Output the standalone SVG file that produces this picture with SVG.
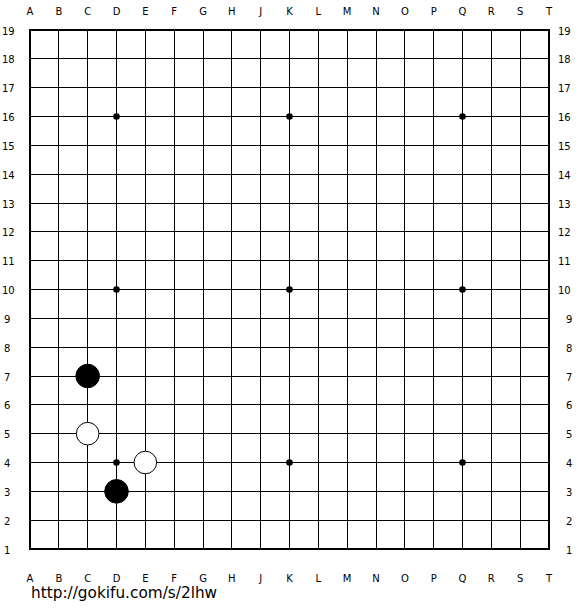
<svg xmlns="http://www.w3.org/2000/svg" width="580" height="610" viewBox="0 0 580 610">
<style>
.bg{fill:#ffffff}
.grid line{stroke:#000;stroke-width:1;shape-rendering:crispEdges}
.border{fill:none;stroke:#000;stroke-width:2;shape-rendering:crispEdges}
.coord{font-family:"DejaVu Sans",Verdana,sans-serif;font-size:10px;fill:#000}
.cx{text-anchor:middle}
.star{fill:#000}
.black{fill:#000;stroke:#000;stroke-width:1}
.white{fill:#fff;stroke:#000;stroke-width:1}
.url{font-family:"DejaVu Sans",Verdana,sans-serif;font-size:15.3px;fill:#000}
</style>
<rect class="bg" x="0" y="0" width="580" height="610"/>
<g id="connectors" class="grid">
<line x1="58.83" y1="30" x2="58.83" y2="549"/>
<line x1="87.67" y1="30" x2="87.67" y2="549"/>
<line x1="116.5" y1="30" x2="116.5" y2="549"/>
<line x1="145.33" y1="30" x2="145.33" y2="549"/>
<line x1="174.17" y1="30" x2="174.17" y2="549"/>
<line x1="203" y1="30" x2="203" y2="549"/>
<line x1="231.83" y1="30" x2="231.83" y2="549"/>
<line x1="260.67" y1="30" x2="260.67" y2="549"/>
<line x1="289.5" y1="30" x2="289.5" y2="549"/>
<line x1="318.33" y1="30" x2="318.33" y2="549"/>
<line x1="347.17" y1="30" x2="347.17" y2="549"/>
<line x1="376" y1="30" x2="376" y2="549"/>
<line x1="404.83" y1="30" x2="404.83" y2="549"/>
<line x1="433.67" y1="30" x2="433.67" y2="549"/>
<line x1="462.5" y1="30" x2="462.5" y2="549"/>
<line x1="491.33" y1="30" x2="491.33" y2="549"/>
<line x1="520.17" y1="30" x2="520.17" y2="549"/>
<line x1="30" y1="58.83" x2="549" y2="58.83"/>
<line x1="30" y1="87.67" x2="549" y2="87.67"/>
<line x1="30" y1="116.5" x2="549" y2="116.5"/>
<line x1="30" y1="145.33" x2="549" y2="145.33"/>
<line x1="30" y1="174.17" x2="549" y2="174.17"/>
<line x1="30" y1="203" x2="549" y2="203"/>
<line x1="30" y1="231.83" x2="549" y2="231.83"/>
<line x1="30" y1="260.67" x2="549" y2="260.67"/>
<line x1="30" y1="289.5" x2="549" y2="289.5"/>
<line x1="30" y1="318.33" x2="549" y2="318.33"/>
<line x1="30" y1="347.17" x2="549" y2="347.17"/>
<line x1="30" y1="376" x2="549" y2="376"/>
<line x1="30" y1="404.83" x2="549" y2="404.83"/>
<line x1="30" y1="433.67" x2="549" y2="433.67"/>
<line x1="30" y1="462.5" x2="549" y2="462.5"/>
<line x1="30" y1="491.33" x2="549" y2="491.33"/>
<line x1="30" y1="520.17" x2="549" y2="520.17"/>
<rect class="border" x="30" y="30" width="519" height="519"/>
</g>
<g id="stars">
<circle class="star" cx="116.5" cy="116.5" r="3.3"/>
<circle class="star" cx="289.5" cy="116.5" r="3.3"/>
<circle class="star" cx="462.5" cy="116.5" r="3.3"/>
<circle class="star" cx="116.5" cy="289.5" r="3.3"/>
<circle class="star" cx="289.5" cy="289.5" r="3.3"/>
<circle class="star" cx="462.5" cy="289.5" r="3.3"/>
<circle class="star" cx="116.5" cy="462.5" r="3.3"/>
<circle class="star" cx="289.5" cy="462.5" r="3.3"/>
<circle class="star" cx="462.5" cy="462.5" r="3.3"/>
</g>
<g id="stone-C7"><circle class="black" cx="87.67" cy="376" r="11.8"/></g>
<g id="stone-C5"><circle class="white" cx="87.67" cy="433.67" r="11.3"/></g>
<g id="stone-E4"><circle class="white" cx="145.33" cy="462.5" r="11.3"/></g>
<g id="stone-D3"><circle class="black" cx="116.5" cy="491.33" r="11.8"/></g>
<g id="top-letters" class="coord cx">
<text x="30" y="15">A</text><text x="58.83" y="15">B</text><text x="87.67" y="15">C</text><text x="116.5" y="15">D</text><text x="145.33" y="15">E</text><text x="174.17" y="15">F</text><text x="203" y="15">G</text><text x="231.83" y="15">H</text><text x="260.67" y="15">J</text><text x="289.5" y="15">K</text><text x="318.33" y="15">L</text><text x="347.17" y="15">M</text><text x="376" y="15">N</text><text x="404.83" y="15">O</text><text x="433.67" y="15">P</text><text x="462.5" y="15">Q</text><text x="491.33" y="15">R</text><text x="520.17" y="15">S</text><text x="549" y="15">T</text>
</g>
<g id="bottom-letters" class="coord cx">
<text x="30" y="582">A</text><text x="58.83" y="582">B</text><text x="87.67" y="582">C</text><text x="116.5" y="582">D</text><text x="145.33" y="582">E</text><text x="174.17" y="582">F</text><text x="203" y="582">G</text><text x="231.83" y="582">H</text><text x="260.67" y="582">J</text><text x="289.5" y="582">K</text><text x="318.33" y="582">L</text><text x="347.17" y="582">M</text><text x="376" y="582">N</text><text x="404.83" y="582">O</text><text x="433.67" y="582">P</text><text x="462.5" y="582">Q</text><text x="491.33" y="582">R</text><text x="520.17" y="582">S</text><text x="549" y="582">T</text>
</g>
<g id="left-numbers" class="coord">
<text x="2" y="34.5">19</text><text x="2" y="63.3">18</text><text x="2" y="92.2">17</text><text x="2" y="121">16</text><text x="2" y="149.8">15</text><text x="2" y="178.7">14</text><text x="2" y="207.5">13</text><text x="2" y="236.3">12</text><text x="2" y="265.2">11</text><text x="2" y="294">10</text><text x="4" y="322.8">9</text><text x="4" y="351.7">8</text><text x="4" y="380.5">7</text><text x="4" y="409.3">6</text><text x="4" y="438.2">5</text><text x="4" y="467">4</text><text x="4" y="495.8">3</text><text x="4" y="524.7">2</text><text x="4" y="553.5">1</text>
</g>
<g id="right-numbers" class="coord">
<text x="558" y="34.5">19</text><text x="558" y="63.3">18</text><text x="558" y="92.2">17</text><text x="558" y="121">16</text><text x="558" y="149.8">15</text><text x="558" y="178.7">14</text><text x="558" y="207.5">13</text><text x="558" y="236.3">12</text><text x="558" y="265.2">11</text><text x="558" y="294">10</text><text x="566" y="322.8">9</text><text x="566" y="351.7">8</text><text x="566" y="380.5">7</text><text x="566" y="409.3">6</text><text x="566" y="438.2">5</text><text x="566" y="467">4</text><text x="566" y="495.8">3</text><text x="566" y="524.7">2</text><text x="566" y="553.5">1</text>
</g>
<text id="url" class="url" x="31" y="598">http://gokifu.com/s/2lhw</text>
</svg>
